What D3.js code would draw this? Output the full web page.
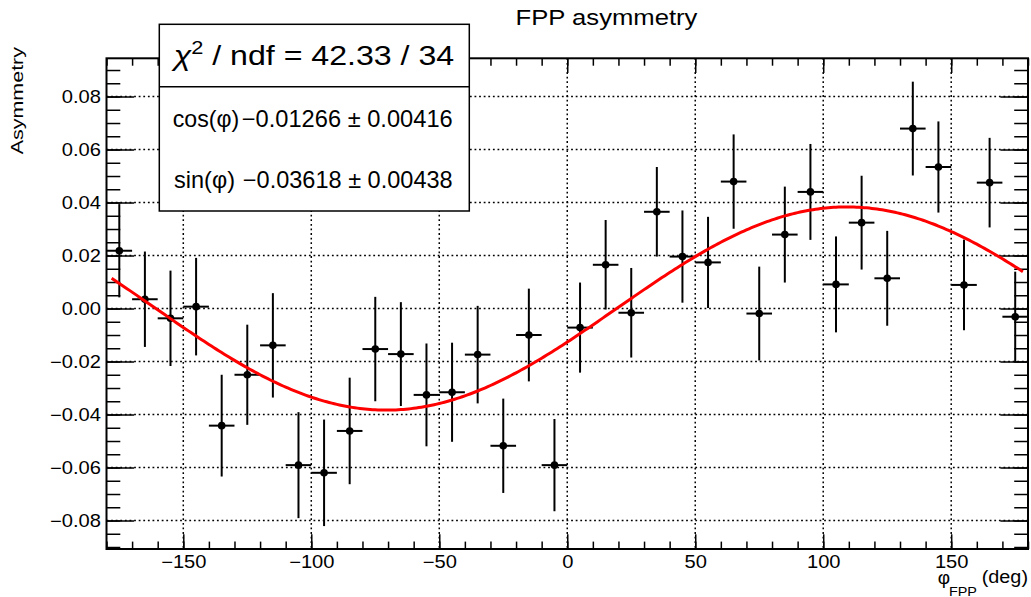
<!DOCTYPE html>
<html>
<head>
<meta charset="utf-8">
<script src="https://cdn.jsdelivr.net/npm/d3@7"></script>
<style>
  body { margin: 0; background: #fff; }
  svg { display: block; font-family: "Liberation Sans", Arial, sans-serif; }
</style>
</head>
<body>
<svg id="chart" width="1031" height="597"></svg>
<script>
// ============================================
// FPP asymmetry vs phi, ROOT-style histogram with sin/cos fit
// ============================================

// Bin centres (deg), each bin is 10 deg wide
const PHI_BINS = [
    -175, -165, -155, -145, -135, -125, -115, -105, -95, -85, -75, -65,
    -55, -45, -35, -25, -15, -5, 5, 15, 25, 35, 45, 55,
    65, 75, 85, 95, 105, 115, 125, 135, 145, 155, 165, 175
];
const BIN_HALF_WIDTH = 5;

// Measured asymmetry per bin
const ASYMMETRY = [
    0.0218, 0.0035, -0.0037, 0.0007, -0.0442, -0.0250, -0.0139, -0.0591, -0.0620, -0.0462, -0.0153, -0.0172,
    -0.0326, -0.0316, -0.0174, -0.0518, -0.0100, -0.0591, -0.0072, 0.0165, -0.0016, 0.0365, 0.0196, 0.0174,
    0.0479, -0.0019, 0.0279, 0.0440, 0.0091, 0.0324, 0.0114, 0.0679, 0.0534, 0.0089, 0.0475, -0.0031
];

// Statistical error per bin
const ASYM_ERRORS = [
    0.0176, 0.0180, 0.0180, 0.0184, 0.0192, 0.0189, 0.0197, 0.0200, 0.0201, 0.0201, 0.0197, 0.0196,
    0.0194, 0.0187, 0.0184, 0.0178, 0.0175, 0.0174, 0.0170, 0.0169, 0.0169, 0.0169, 0.0174, 0.0172,
    0.0178, 0.0177, 0.0181, 0.0181, 0.0181, 0.0177, 0.0179, 0.0177, 0.0172, 0.0171, 0.0169, 0.0170
];

// Axis ticks
const X_TICKS = [-150, -100, -50, 0, 50, 100, 150];
const Y_TICKS = [-0.08, -0.06, -0.04, -0.02, 0.00, 0.02, 0.04, 0.06, 0.08];
const X_DOMAIN = [-180, 180];
const Y_DOMAIN = [-0.09075, 0.09442];

// Fit result: A(phi) = p_cos * cos(phi) - p_sin * sin(phi)
const FIT_COS = -0.01266;
const FIT_SIN = -0.03618;
const FIT_RANGE = [-178, 178];

// Stats box
const STATS_HEADER = ['χ', '2', ' / ndf = 42.33 / 34'];
const STATS_NAMES = ['cos(φ)', 'sin(φ)'];
const STATS_VALUES = ['−0.01266 ± 0.00416', '−0.03618 ± 0.00438'];

// ============================================
// Layout
// ============================================
const frame = { left: 106.5, right: 1028, top: 58.3, bottom: 549 };
const TICK_FONT = 17.5;
const TICK_STRETCH = 1.15;

const svg = d3.select('#chart');

const x = d3.scaleLinear().domain(X_DOMAIN).range([frame.left, frame.right]);
const y = d3.scaleLinear().domain(Y_DOMAIN).range([frame.bottom, frame.top]);

const xMinor = d3.range(-18, 19).map(i => i * 10);
const yMinor = d3.range(-18, 19).map(i => i * 0.005);

/**
 * Stretch a text element horizontally so it spans the given width
 */
function fitWidth(text, width) {
    const w = text.node().getBBox().width;
    if (w > 0) text.attr('transform', `scale(${width / w},1)`);
    return text;
}

/**
 * Add a text anchored at (px, py) inside its own group
 */
function addText(px, py, size, anchor, str) {
    const g = svg.append('g').attr('transform', `translate(${px},${py})`);
    const t = g.append('text')
        .attr('font-size', size)
        .attr('text-anchor', anchor)
        .attr('fill', '#000');
    if (str !== undefined) t.text(str);
    return t;
}

/**
 * Attach a d3 axis without its domain line
 */
function addAxis(axis, tx, ty) {
    const g = svg.append('g')
        .attr('transform', `translate(${tx},${ty})`)
        .call(axis)
        .attr('font-family', null)
        .attr('font-size', TICK_FONT);
    g.select('.domain').remove();
    g.selectAll('.tick line').attr('stroke', '#000').attr('stroke-width', 1.5);
    g.selectAll('.tick text').attr('fill', '#000');
    return g;
}

// ============================================
// Grid
// ============================================
const grid = svg.append('g')
    .attr('stroke', '#000')
    .attr('stroke-width', 1.5)
    .attr('stroke-dasharray', '1.8,2.8');

grid.selectAll('line.gx').data(X_TICKS).join('line')
    .attr('class', 'gx')
    .attr('x1', d => x(d)).attr('x2', d => x(d))
    .attr('y1', frame.top).attr('y2', frame.bottom);

grid.selectAll('line.gy').data(Y_TICKS).join('line')
    .attr('class', 'gy')
    .attr('x1', frame.left).attr('x2', frame.right)
    .attr('y1', d => y(d)).attr('y2', d => y(d));

// ============================================
// Axes (ticks pointing inwards on all four sides)
// ============================================
addAxis(d3.axisBottom(x).tickValues(xMinor).tickSize(-7.4).tickFormat(''), 0, frame.bottom);
addAxis(d3.axisTop(x).tickValues(xMinor).tickSize(-7.4).tickFormat(''), 0, frame.top);
addAxis(d3.axisTop(x).tickValues(X_TICKS).tickSize(-14.7).tickFormat(''), 0, frame.top);
const xAxis = addAxis(
    d3.axisBottom(x).tickValues(X_TICKS).tickSize(-14.7).tickPadding(7).tickFormat(d3.format('d')),
    0, frame.bottom);
xAxis.selectAll('.tick text').attr('transform', `scale(${TICK_STRETCH},1)`);

addAxis(d3.axisLeft(y).tickValues(yMinor).tickSize(-13.8).tickFormat(''), frame.left, 0);
addAxis(d3.axisRight(y).tickValues(yMinor).tickSize(-13.8).tickFormat(''), frame.right, 0);
addAxis(d3.axisRight(y).tickValues(Y_TICKS).tickSize(-27.6).tickFormat(''), frame.right, 0);
const yAxis = addAxis(
    d3.axisLeft(y).tickValues(Y_TICKS).tickSize(-27.6).tickPadding(4.8).tickFormat(d3.format('.2f')),
    frame.left, 0);
yAxis.selectAll('.tick text').attr('transform', `scale(${TICK_STRETCH},1)`);

// ============================================
// Data points with error bars
// ============================================
const points = PHI_BINS.map((phi, i) => ({ phi: phi, a: ASYMMETRY[i], e: ASYM_ERRORS[i] }));

const dataG = svg.append('g').attr('stroke', '#000').attr('stroke-width', 2);

dataG.selectAll('line.ey').data(points).join('line')
    .attr('class', 'ey')
    .attr('x1', d => x(d.phi)).attr('x2', d => x(d.phi))
    .attr('y1', d => y(d.a - d.e)).attr('y2', d => y(d.a + d.e));

dataG.selectAll('line.ex').data(points).join('line')
    .attr('class', 'ex')
    .attr('x1', d => x(d.phi - BIN_HALF_WIDTH)).attr('x2', d => x(d.phi + BIN_HALF_WIDTH))
    .attr('y1', d => y(d.a)).attr('y2', d => y(d.a));

dataG.selectAll('circle').data(points).join('circle')
    .attr('cx', d => x(d.phi))
    .attr('cy', d => y(d.a))
    .attr('r', 3.8)
    .attr('fill', '#000')
    .attr('stroke', 'none');

// ============================================
// Fit curve
// ============================================
const fitFn = phi => {
    const r = phi * Math.PI / 180;
    return FIT_COS * Math.cos(r) - FIT_SIN * Math.sin(r);
};
const fitPts = d3.range(FIT_RANGE[0], FIT_RANGE[1] + 0.5, 1).map(p => [p, fitFn(p)]);

svg.append('path')
    .datum(fitPts)
    .attr('d', d3.line().x(d => x(d[0])).y(d => y(d[1])))
    .attr('fill', 'none')
    .attr('stroke', '#ff0000')
    .attr('stroke-width', 3);

// ============================================
// Frame
// ============================================
svg.append('rect')
    .attr('x', frame.left).attr('y', frame.top)
    .attr('width', frame.right - frame.left)
    .attr('height', frame.bottom - frame.top)
    .attr('fill', 'none')
    .attr('stroke', '#000')
    .attr('stroke-width', 2);

// ============================================
// Stats box
// ============================================
const box = { left: 159.3, top: 24.3, right: 469.3, bottom: 211, divider: 86.7 };

svg.append('rect')
    .attr('x', box.left).attr('y', box.top)
    .attr('width', box.right - box.left)
    .attr('height', box.bottom - box.top)
    .attr('fill', '#fff')
    .attr('stroke', '#000')
    .attr('stroke-width', 1.5);

svg.append('line')
    .attr('x1', box.left).attr('x2', box.right)
    .attr('y1', box.divider).attr('y2', box.divider)
    .attr('stroke', '#000')
    .attr('stroke-width', 1.5);

const header = addText(313.9, 65, 28, 'middle');
header.append('tspan').attr('font-style', 'italic').text(STATS_HEADER[0]);
header.append('tspan').attr('font-size', 19).attr('dy', -11).text(STATS_HEADER[1]);
header.append('tspan').attr('dy', 11).text(STATS_HEADER[2]);
fitWidth(header, 284);

const rowBaselines = [127.3, 188];
const nameStarts = [172.7, 174];
const nameWidths = [66.6, 61];
const valueWidths = [211, 210];
STATS_NAMES.forEach((name, i) => {
    fitWidth(addText(nameStarts[i], rowBaselines[i], 23, 'start', name), nameWidths[i]);
    fitWidth(addText(452.7, rowBaselines[i], 23, 'end', STATS_VALUES[i]), valueWidths[i]);
});

// ============================================
// Titles
// ============================================
fitWidth(addText(606.5, 25, 22, 'middle', 'FPP asymmetry'), 182);

const yTitleG = svg.append('g').attr('transform', 'translate(23,47) rotate(-90)');
const yTitle = yTitleG.append('text')
    .attr('font-size', 17)
    .attr('text-anchor', 'end')
    .text('Asymmetry');
fitWidth(yTitle, 108);

addText(937.7, 584, 19, 'start', 'φ');
fitWidth(addText(949, 595.5, 13, 'start', 'FPP'), 28);
fitWidth(addText(1028, 583, 18.5, 'end', '(deg)'), 46.3);
</script>
</body>
</html>
